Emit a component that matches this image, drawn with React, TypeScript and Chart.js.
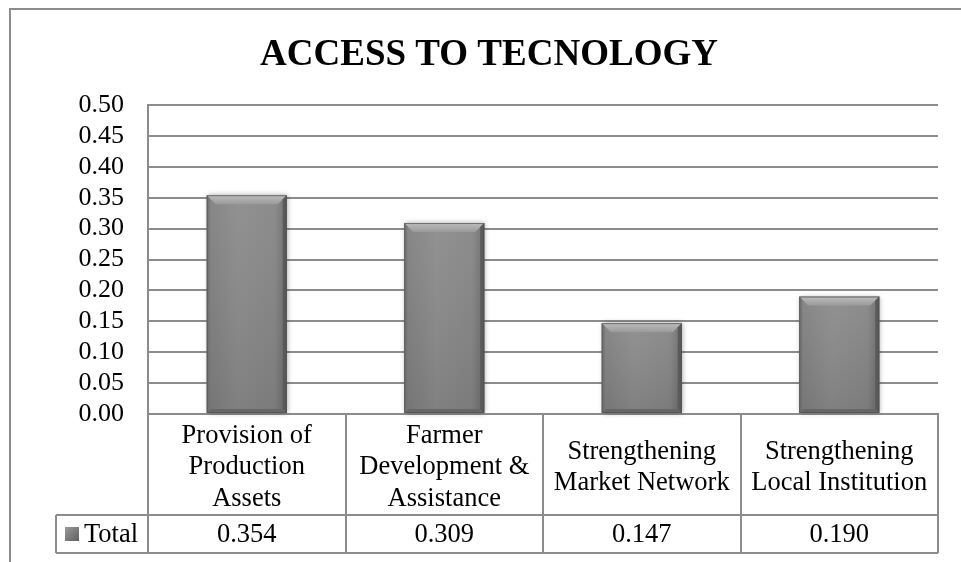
import React, { useEffect, useRef } from "react";
import { Chart, registerables } from "chart.js";

Chart.register(...registerables);

const TITLE = "ACCESS TO TECNOLOGY";
const CATEGORIES: string[][] = [
  ["Provision of", "Production", "Assets"],
  ["Farmer", "Development &", "Assistance"],
  ["Strengthening", "Market Network"],
  ["Strengthening", "Local Institution"],
];
const SERIES_NAME = "Total";
const VALUES: number[] = [0.354, 0.309, 0.147, 0.19];
const Y_MIN = 0;
const Y_MAX = 0.5;
const Y_STEP = 0.05;

const FONT = "'Liberation Serif', 'Times New Roman', serif";
const LINE = "#8c8c8c";

const framePlugin = {
  id: "frame",
  beforeDraw(chart: any) {
    const { ctx, width, height } = chart;
    ctx.save();
    ctx.fillStyle = "#ffffff";
    ctx.fillRect(0, 0, width, height);
    ctx.strokeStyle = LINE;
    ctx.lineWidth = 2;
    ctx.beginPath();
    ctx.moveTo(10, height + 2);
    ctx.lineTo(10, 9);
    ctx.lineTo(width + 2, 9);
    ctx.stroke();
    ctx.fillStyle = "#000";
    ctx.font = `bold 37px ${FONT}`;
    ctx.textAlign = "center";
    ctx.textBaseline = "alphabetic";
    ctx.fillText(TITLE, 489, 65);
    ctx.restore();
  },
};

const bevelPlugin = {
  id: "bevel",
  afterDatasetsDraw(chart: any) {
    const { ctx } = chart;
    const meta = chart.getDatasetMeta(0);
    ctx.save();
    meta.data.forEach((el: any) => {
      const p = el.getProps(["x", "y", "base", "width"], true);
      const l = p.x - p.width / 2;
      const r = p.x + p.width / 2;
      const t = p.y;
      const b = p.base;
      const bv = 9;
      ctx.save();
      ctx.shadowColor = "rgba(0,0,0,0.35)";
      ctx.shadowBlur = 5;
      ctx.shadowOffsetX = 1;
      const g = ctx.createLinearGradient(l, 0, r, 0);
      g.addColorStop(0, "#7e7e7e");
      g.addColorStop(0.4, "#8b8b8b");
      g.addColorStop(0.85, "#858585");
      g.addColorStop(1, "#6a6a6a");
      ctx.fillStyle = g;
      ctx.fillRect(l, t, r - l, b - t);
      ctx.restore();
      const vg = ctx.createLinearGradient(0, t, 0, b);
      vg.addColorStop(0, "rgba(255,255,255,0.06)");
      vg.addColorStop(1, "rgba(0,0,0,0.08)");
      ctx.fillStyle = vg;
      ctx.fillRect(l, t, r - l, b - t);
      // top bevel
      const tg = ctx.createLinearGradient(0, t, 0, t + bv);
      tg.addColorStop(0, "#bdbdbd");
      tg.addColorStop(1, "#9a9a9a");
      ctx.fillStyle = tg;
      ctx.beginPath();
      ctx.moveTo(l, t);
      ctx.lineTo(r, t);
      ctx.lineTo(r - bv, t + bv);
      ctx.lineTo(l + bv, t + bv);
      ctx.closePath();
      ctx.fill();
      // left bevel
      ctx.fillStyle = "rgba(110,110,110,0.6)";
      ctx.beginPath();
      ctx.moveTo(l, t);
      ctx.lineTo(l + 3, t + 3);
      ctx.lineTo(l + 3, b - 3);
      ctx.lineTo(l, b);
      ctx.closePath();
      ctx.fill();
      // right bevel
      ctx.fillStyle = "#5a5a5a";
      ctx.beginPath();
      ctx.moveTo(r, t);
      ctx.lineTo(r - 4, t + 4);
      ctx.lineTo(r - 4, b - 4);
      ctx.lineTo(r, b);
      ctx.closePath();
      ctx.fill();
      // bottom bevel
      ctx.fillStyle = "#666666";
      ctx.beginPath();
      ctx.moveTo(l, b);
      ctx.lineTo(l + 4, b - 4);
      ctx.lineTo(r - 4, b - 4);
      ctx.lineTo(r, b);
      ctx.closePath();
      ctx.fill();
      ctx.strokeStyle = "rgba(80,80,80,0.7)";
      ctx.lineWidth = 1;
      ctx.strokeRect(l + 0.5, t + 0.5, r - l - 1, b - t - 1);
    });
    ctx.restore();
  },
};

const tablePlugin = {
  id: "dataTable",
  afterDraw(chart: any) {
    const { ctx, chartArea } = chart;
    const xs = chart.scales.x;
    const n = CATEGORIES.length;
    const step = xs.getPixelForValue(1) - xs.getPixelForValue(0);
    const left = chartArea.left;
    const right = chartArea.right;
    const top = chartArea.bottom;
    const mid = 515;
    const bottom = 553;
    const legendLeft = 56;
    ctx.save();
    ctx.strokeStyle = LINE;
    ctx.lineWidth = 2;
    ctx.beginPath();
    ctx.moveTo(left, top);
    ctx.lineTo(left, bottom);
    ctx.moveTo(right, top);
    ctx.lineTo(right, bottom);
    ctx.moveTo(legendLeft, mid);
    ctx.lineTo(right, mid);
    ctx.moveTo(legendLeft, bottom);
    ctx.lineTo(right, bottom);
    ctx.moveTo(legendLeft, mid);
    ctx.lineTo(legendLeft, bottom);
    for (let i = 0; i < n - 1; i++) {
      const x = Math.round(xs.getPixelForValue(i) + step / 2);
      ctx.moveTo(x, top);
      ctx.lineTo(x, bottom);
    }
    ctx.stroke();

    ctx.fillStyle = "#000";
    ctx.font = `26.5px ${FONT}`;
    ctx.textAlign = "center";
    ctx.textBaseline = "middle";
    const lh = 31.5;
    const headerCenter = (top + mid) / 2 + 3;
    CATEGORIES.forEach((lines, i) => {
      const cx = xs.getPixelForValue(i);
      const start = headerCenter - ((lines.length - 1) * lh) / 2;
      lines.forEach((ln, j) => ctx.fillText(ln, cx, start + j * lh));
      ctx.fillText(VALUES[i].toFixed(3), cx, (mid + bottom) / 2 + 1);
    });

    const ky = (mid + bottom) / 2;
    const kg = ctx.createLinearGradient(65, ky - 7, 79, ky + 7);
    kg.addColorStop(0, "#9a9a9a");
    kg.addColorStop(1, "#5e5e5e");
    ctx.fillStyle = kg;
    ctx.fillRect(65, ky - 7, 14, 14);
    ctx.fillStyle = "#000";
    ctx.textAlign = "left";
    ctx.fillText(SERIES_NAME, 84, ky + 1);
    ctx.restore();
  },
};

export default function App() {
  const ref = useRef<HTMLCanvasElement | null>(null);
  useEffect(() => {
    if (!ref.current) return;
    const chart = new Chart(ref.current, {
      type: "bar",
      data: {
        labels: CATEGORIES.map((c) => c.join(" ")),
        datasets: [
          {
            label: SERIES_NAME,
            data: VALUES,
            backgroundColor: "#858585",
            borderWidth: 0,
            categoryPercentage: 0.81,
            barPercentage: 0.5,
          },
        ],
      },
      options: {
        responsive: false,
        animation: false,
        devicePixelRatio: 1,
        layout: { padding: { left: 0, right: 23, top: 105, bottom: 0 } },
        plugins: {
          legend: { display: false },
          title: { display: false },
          tooltip: { enabled: false },
        },
        scales: {
          x: {
            grid: { display: false, drawTicks: false },
            border: { display: true, color: LINE, width: 2 },
            ticks: { display: false },
            afterFit: (s: any) => {
              s.height = 148;
            },
          },
          y: {
            min: Y_MIN,
            max: Y_MAX,
            grid: { color: LINE, lineWidth: 2, drawTicks: false },
            border: { display: true, color: LINE, width: 2 },
            ticks: {
              stepSize: Y_STEP,
              autoSkip: false,
              color: "#000",
              padding: 24,
              font: { family: FONT, size: 26 },
              callback: (v: any) => Number(v).toFixed(2),
            },
            afterFit: (s: any) => {
              s.width = 148;
            },
          },
        },
      },
      plugins: [framePlugin, bevelPlugin, tablePlugin],
    });
    return () => chart.destroy();
  }, []);
  return (
    <div style={{ position: "absolute", left: 0, top: 0, width: 961, height: 562, overflow: "hidden" }}>
      <canvas ref={ref} width={961} height={562} style={{ display: "block" }} />
    </div>
  );
}
